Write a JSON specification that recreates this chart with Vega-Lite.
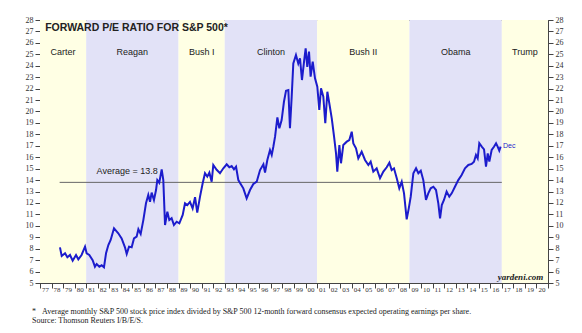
{
  "$schema": "https://vega.github.io/schema/vega-lite/v6.json",
  "width": 508,
  "height": 263,
  "autosize": "none",
  "padding": {"left": 40, "top": 20, "right": 34, "bottom": 50},
  "background": "white",
  "config": {
    "view": {"stroke": "#444", "strokeWidth": 1},
    "axis": {"grid": false, "domainColor": "#444", "tickColor": "#444", "labelColor": "#333", "labelFont": "Liberation Serif", "title": null}
  },
  "title": {
    "text": ["*\u00a0\u00a0\u00a0Average monthly S&P 500 stock price index divided by S&P 500 12-month forward consensus expected operating earnings per share.", "\u00a0\u00a0\u00a0\u00a0\u00a0Source: Thomson Reuters I/B/E/S."],
    "orient": "bottom", "anchor": "start", "frame": "group", "dx": -8, "offset": 16,
    "font": "Liberation Serif", "fontSize": 8, "fontWeight": "normal", "color": "#222", "lineHeight": 9
  },
  "datasets": {
    "bands": [
      {"name": "Carter", "t": 1977, "t2": 1981, "shade": "a"},
      {"name": "Reagan", "t": 1981, "t2": 1989, "shade": "b"},
      {"name": "Bush I", "t": 1989, "t2": 1993, "shade": "a"},
      {"name": "Clinton", "t": 1993, "t2": 2001, "shade": "b"},
      {"name": "Bush II", "t": 2001, "t2": 2009, "shade": "a"},
      {"name": "Obama", "t": 2009, "t2": 2017, "shade": "b"},
      {"name": "Trump", "t": 2017, "t2": 2021, "shade": "a"}
    ],
    "presidents": [
      {"name": "Carter", "t": 1979, "v": 25.2},
      {"name": "Reagan", "t": 1985, "v": 25.2},
      {"name": "Bush I", "t": 1991, "v": 25.2},
      {"name": "Clinton", "t": 1997, "v": 25.2},
      {"name": "Bush II", "t": 2005, "v": 25.2},
      {"name": "Obama", "t": 2013, "v": 25.2},
      {"name": "Trump", "t": 2019, "v": 25.2}
    ],
    "pe": [
      {"t": 1978.73, "v": 8.12}, {"t": 1978.88, "v": 7.36}, {"t": 1979.17, "v": 7.6}, {"t": 1979.37, "v": 7.25},
      {"t": 1979.6, "v": 7.45}, {"t": 1979.83, "v": 6.95}, {"t": 1980.12, "v": 7.45}, {"t": 1980.32, "v": 7.07},
      {"t": 1980.6, "v": 7.45}, {"t": 1980.9, "v": 8.18}, {"t": 1981.04, "v": 7.6}, {"t": 1981.27, "v": 7.45},
      {"t": 1981.56, "v": 7.0}, {"t": 1981.76, "v": 6.43}, {"t": 1981.91, "v": 6.66}, {"t": 1982.14, "v": 6.43},
      {"t": 1982.34, "v": 6.55}, {"t": 1982.54, "v": 6.37}, {"t": 1982.72, "v": 7.6}, {"t": 1982.92, "v": 8.32},
      {"t": 1983.12, "v": 8.76}, {"t": 1983.41, "v": 9.78}, {"t": 1983.58, "v": 9.58}, {"t": 1983.78, "v": 9.35},
      {"t": 1984.07, "v": 8.9}, {"t": 1984.36, "v": 8.12}, {"t": 1984.51, "v": 7.54}, {"t": 1984.71, "v": 8.18},
      {"t": 1984.94, "v": 8.12}, {"t": 1985.14, "v": 8.9}, {"t": 1985.37, "v": 9.05}, {"t": 1985.52, "v": 9.7},
      {"t": 1985.72, "v": 9.29}, {"t": 1985.95, "v": 10.5}, {"t": 1986.18, "v": 11.97}, {"t": 1986.38, "v": 12.7},
      {"t": 1986.53, "v": 12.1}, {"t": 1986.67, "v": 12.9}, {"t": 1986.87, "v": 12.26}, {"t": 1987.05, "v": 13.13},
      {"t": 1987.16, "v": 14.0}, {"t": 1987.33, "v": 13.77}, {"t": 1987.54, "v": 14.94}, {"t": 1987.68, "v": 14.0},
      {"t": 1987.83, "v": 10.07}, {"t": 1988.03, "v": 11.24}, {"t": 1988.2, "v": 10.5}, {"t": 1988.4, "v": 10.66},
      {"t": 1988.6, "v": 10.07}, {"t": 1988.84, "v": 10.36}, {"t": 1989.07, "v": 10.22}, {"t": 1989.36, "v": 10.95},
      {"t": 1989.56, "v": 11.97}, {"t": 1989.76, "v": 11.82}, {"t": 1989.99, "v": 12.1}, {"t": 1990.22, "v": 11.53},
      {"t": 1990.43, "v": 12.5}, {"t": 1990.62, "v": 11.15}, {"t": 1990.86, "v": 12.55}, {"t": 1991.09, "v": 13.72},
      {"t": 1991.29, "v": 14.6}, {"t": 1991.49, "v": 14.3}, {"t": 1991.67, "v": 14.65}, {"t": 1991.87, "v": 13.86},
      {"t": 1992.01, "v": 15.32}, {"t": 1992.3, "v": 14.9}, {"t": 1992.59, "v": 14.6}, {"t": 1992.88, "v": 15.03},
      {"t": 1993.17, "v": 15.38}, {"t": 1993.4, "v": 15.12}, {"t": 1993.6, "v": 15.23}, {"t": 1993.8, "v": 14.94},
      {"t": 1993.98, "v": 15.17}, {"t": 1994.18, "v": 14.0}, {"t": 1994.38, "v": 13.66}, {"t": 1994.61, "v": 13.28},
      {"t": 1994.9, "v": 12.4}, {"t": 1995.19, "v": 13.13}, {"t": 1995.48, "v": 13.66}, {"t": 1995.77, "v": 13.86},
      {"t": 1996.06, "v": 14.88}, {"t": 1996.35, "v": 15.38}, {"t": 1996.49, "v": 14.65}, {"t": 1996.69, "v": 15.76},
      {"t": 1996.92, "v": 16.63}, {"t": 1997.07, "v": 16.2}, {"t": 1997.21, "v": 16.92}, {"t": 1997.36, "v": 17.8},
      {"t": 1997.56, "v": 19.49}, {"t": 1997.73, "v": 18.53}, {"t": 1997.93, "v": 19.25}, {"t": 1998.13, "v": 20.85},
      {"t": 1998.31, "v": 21.82}, {"t": 1998.51, "v": 21.88}, {"t": 1998.65, "v": 18.53}, {"t": 1998.8, "v": 21.3},
      {"t": 1998.94, "v": 24.2}, {"t": 1999.17, "v": 24.94}, {"t": 1999.37, "v": 24.2}, {"t": 1999.52, "v": 24.65},
      {"t": 1999.69, "v": 22.75}, {"t": 1999.87, "v": 24.35}, {"t": 2000.01, "v": 25.52}, {"t": 2000.15, "v": 23.9},
      {"t": 2000.3, "v": 25.23}, {"t": 2000.44, "v": 23.04}, {"t": 2000.62, "v": 24.35}, {"t": 2000.82, "v": 22.9},
      {"t": 2001.02, "v": 22.17}, {"t": 2001.19, "v": 20.13}, {"t": 2001.34, "v": 22.02}, {"t": 2001.54, "v": 21.3},
      {"t": 2001.71, "v": 18.97}, {"t": 2001.89, "v": 21.73}, {"t": 2002.06, "v": 20.7}, {"t": 2002.27, "v": 19.4},
      {"t": 2002.47, "v": 17.8}, {"t": 2002.64, "v": 16.34}, {"t": 2002.75, "v": 14.74}, {"t": 2002.93, "v": 17.07},
      {"t": 2003.07, "v": 15.47}, {"t": 2003.27, "v": 17.07}, {"t": 2003.57, "v": 17.36}, {"t": 2003.79, "v": 17.5},
      {"t": 2004.0, "v": 18.23}, {"t": 2004.14, "v": 17.2}, {"t": 2004.37, "v": 16.78}, {"t": 2004.57, "v": 15.9},
      {"t": 2004.86, "v": 16.48}, {"t": 2005.15, "v": 15.76}, {"t": 2005.44, "v": 15.32}, {"t": 2005.64, "v": 15.61},
      {"t": 2005.87, "v": 14.74}, {"t": 2006.16, "v": 15.03}, {"t": 2006.45, "v": 14.16}, {"t": 2006.74, "v": 14.74},
      {"t": 2007.03, "v": 15.12}, {"t": 2007.26, "v": 15.52}, {"t": 2007.46, "v": 14.88}, {"t": 2007.66, "v": 15.03},
      {"t": 2007.9, "v": 14.16}, {"t": 2008.12, "v": 13.28}, {"t": 2008.33, "v": 13.86}, {"t": 2008.53, "v": 12.84},
      {"t": 2008.76, "v": 10.57}, {"t": 2008.94, "v": 11.53}, {"t": 2009.11, "v": 12.55}, {"t": 2009.34, "v": 14.6},
      {"t": 2009.57, "v": 15.03}, {"t": 2009.77, "v": 14.6}, {"t": 2009.98, "v": 14.82}, {"t": 2010.2, "v": 14.0},
      {"t": 2010.43, "v": 12.26}, {"t": 2010.63, "v": 12.84}, {"t": 2010.84, "v": 13.28}, {"t": 2011.07, "v": 13.42},
      {"t": 2011.3, "v": 13.13}, {"t": 2011.5, "v": 11.97}, {"t": 2011.65, "v": 10.66}, {"t": 2011.8, "v": 11.82},
      {"t": 2011.99, "v": 12.26}, {"t": 2012.22, "v": 12.99}, {"t": 2012.45, "v": 12.55}, {"t": 2012.66, "v": 12.84},
      {"t": 2012.94, "v": 13.42}, {"t": 2013.23, "v": 14.0}, {"t": 2013.52, "v": 14.44}, {"t": 2013.81, "v": 15.03},
      {"t": 2014.1, "v": 15.32}, {"t": 2014.39, "v": 15.41}, {"t": 2014.59, "v": 15.61}, {"t": 2014.76, "v": 16.2},
      {"t": 2014.91, "v": 15.9}, {"t": 2015.05, "v": 17.22}, {"t": 2015.26, "v": 16.92}, {"t": 2015.46, "v": 16.69},
      {"t": 2015.63, "v": 15.17}, {"t": 2015.78, "v": 16.34}, {"t": 2015.92, "v": 15.61}, {"t": 2016.12, "v": 16.63},
      {"t": 2016.32, "v": 16.92}, {"t": 2016.5, "v": 17.22}, {"t": 2016.64, "v": 16.92}, {"t": 2016.78, "v": 16.57},
      {"t": 2016.9, "v": 16.92}
    ],
    "notes": [
      {"label": "FORWARD P/E RATIO FOR S&P 500*", "t": 1977.45, "v": 27.27, "kind": "title"},
      {"label": "Average = 13.8", "t": 1981.9, "v": 14.82, "kind": "avg"},
      {"label": "yardeni.com", "t": 2020.6, "v": 5.55, "kind": "src"},
      {"label": "Dec", "t": 2017.1, "v": 16.98, "kind": "dec"}
    ]
  },
  "encoding": {
    "x": {"field": "t", "type": "quantitative", "scale": {"domain": [1977, 2021], "nice": false, "zero": false},
      "axis": {"values": [1977,1978,1979,1980,1981,1982,1983,1984,1985,1986,1987,1988,1989,1990,1991,1992,1993,1994,1995,1996,1997,1998,1999,2000,2001,2002,2003,2004,2005,2006,2007,2008,2009,2010,2011,2012,2013,2014,2015,2016,2017,2018,2019,2020,2021],
        "labelExpr": "datum.value < 2021 ? substring(format(datum.value, 'd'), 2) : ''",
        "tickSize": 5, "labelAlign": "left", "labelBaseline": "top", "labelPadding": -3, "labelOffset": 1.5,
        "labelFontSize": 7, "labelOverlap": false, "labelFlush": false, "labelBound": false}}
  },
  "layer": [
    {
      "data": {"name": "bands"},
      "mark": {"type": "rect"},
      "encoding": {
        "x2": {"field": "t2"},
        "color": {"field": "shade", "type": "nominal", "scale": {"domain": ["a", "b"], "range": ["#FFFFE4", "#E2E2F7"]}, "legend": null}
      }
    },
    {
      "data": {"name": "presidents"},
      "mark": {"type": "text", "font": "Liberation Sans", "fontSize": 9, "color": "#222", "baseline": "middle"},
      "encoding": {
        "y": {"field": "v", "type": "quantitative", "axis": null},
        "text": {"field": "name"}
      }
    },
    {
      "data": {"values": [{"t": 1978.7, "t2": 2017.0, "avg": 13.8}]},
      "mark": {"type": "rule", "color": "#666", "strokeWidth": 1},
      "encoding": {
        "x2": {"field": "t2"},
        "y": {"field": "avg", "type": "quantitative", "scale": {"domain": [5, 28], "nice": false, "zero": false},
          "axis": {"orient": "left", "values": [5,6,7,8,9,10,11,12,13,14,15,16,17,18,19,20,21,22,23,24,25,26,27,28], "tickSize": 5, "labelPadding": 2, "labelFontSize": 8}}
      }
    },
    {
      "data": {"name": "pe"},
      "mark": {"type": "line", "color": "#1C1CCC", "strokeWidth": 2},
      "encoding": {
        "y": {"field": "v", "type": "quantitative",
          "axis": {"orient": "right", "values": [5,6,7,8,9,10,11,12,13,14,15,16,17,18,19,20,21,22,23,24,25,26,27,28], "tickSize": 5, "labelPadding": 2, "labelFontSize": 8}}
      }
    },
    {
      "data": {"name": "notes"},
      "transform": [{"filter": "datum.kind == 'title'"}],
      "mark": {"type": "text", "font": "Liberation Sans", "fontSize": 10.5, "fontWeight": "bold", "color": "#222", "align": "left", "baseline": "middle"},
      "encoding": {"y": {"field": "v", "type": "quantitative", "axis": null}, "text": {"field": "label"}}
    },
    {
      "data": {"name": "notes"},
      "transform": [{"filter": "datum.kind == 'avg'"}],
      "mark": {"type": "text", "font": "Liberation Sans", "fontSize": 9, "color": "#222", "align": "left", "baseline": "middle"},
      "encoding": {"y": {"field": "v", "type": "quantitative", "axis": null}, "text": {"field": "label"}}
    },
    {
      "data": {"name": "notes"},
      "transform": [{"filter": "datum.kind == 'src'"}],
      "mark": {"type": "text", "font": "Liberation Serif", "fontSize": 9, "fontWeight": "bold", "fontStyle": "italic", "color": "#222", "align": "right", "baseline": "middle"},
      "encoding": {"y": {"field": "v", "type": "quantitative", "axis": null}, "text": {"field": "label"}}
    },
    {
      "data": {"name": "notes"},
      "transform": [{"filter": "datum.kind == 'dec'"}],
      "mark": {"type": "text", "font": "Liberation Sans", "fontSize": 7, "color": "#1C1CCC", "align": "left", "baseline": "middle"},
      "encoding": {"y": {"field": "v", "type": "quantitative", "axis": null}, "text": {"field": "label"}}
    }
  ],
  "resolve": {"axis": {"y": "independent"}}
}
